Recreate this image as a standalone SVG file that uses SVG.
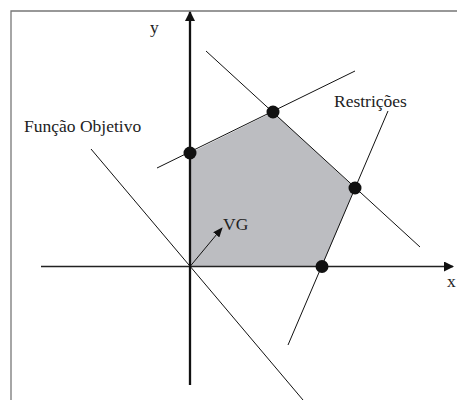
<svg xmlns="http://www.w3.org/2000/svg" width="457" height="400" viewBox="0 0 457 400">
<style>
text{font-family:"Liberation Serif","Times New Roman",serif;font-size:17.5px;fill:#222}
.ln{stroke:#111;stroke-width:1;fill:none}
.dot{fill:#111}
</style>
<defs>
<marker id="ah" markerWidth="10" markerHeight="10" refX="9" refY="5" orient="auto" markerUnits="userSpaceOnUse"><path d="M0,0 L10,5 L0,10 Z" fill="#111"/></marker>
<marker id="ahs" markerWidth="10" markerHeight="8" refX="9" refY="4" orient="auto" markerUnits="userSpaceOnUse"><path d="M0,0 L10,4 L0,8 Z" fill="#111"/></marker>
</defs>
<rect width="457" height="400" fill="#fff"/>
<path d="M11,400 V11 H457" stroke="#777" stroke-width="1.3" fill="none"/>
<g id="region"><polygon points="190,266.5 190,153 273,112 355,188 322,266.5" fill="#bcbdc1"/></g>
<g id="connectors">
<line id="funcao-objetivo-line" class="ln" x1="91" y1="149" x2="303" y2="400"/>
<line class="ln" x1="157" y1="168" x2="355" y2="71"/>
<line class="ln" x1="206" y1="51" x2="420" y2="247"/>
<line class="ln" x1="388" y1="111" x2="288" y2="345"/>
<line id="x-axis" x1="41" y1="266.5" x2="453" y2="266.5" stroke="#222" stroke-width="1.3" marker-end="url(#ah)"/>
<line id="y-axis" x1="190" y1="385" x2="190" y2="12" stroke="#111" stroke-width="2.3" marker-end="url(#ah)"/>
<line id="vg-arrow" class="ln" x1="190" y1="266.5" x2="222" y2="228" marker-end="url(#ahs)"/>
</g>
<g id="vertices">
<circle class="dot" cx="190" cy="153" r="6.5"/>
<circle class="dot" cx="273" cy="112" r="6.5"/>
<circle class="dot" cx="355" cy="188" r="6.5"/>
<circle class="dot" cx="322" cy="266.5" r="6.5"/>
</g>
<g id="labels">
<text x="150" y="33">y</text>
<text x="447" y="287">x</text>
<text x="24" y="132">Função Objetivo</text>
<text x="334" y="107">Restrições</text>
<text x="223" y="230">VG</text>
</g>
</svg>
